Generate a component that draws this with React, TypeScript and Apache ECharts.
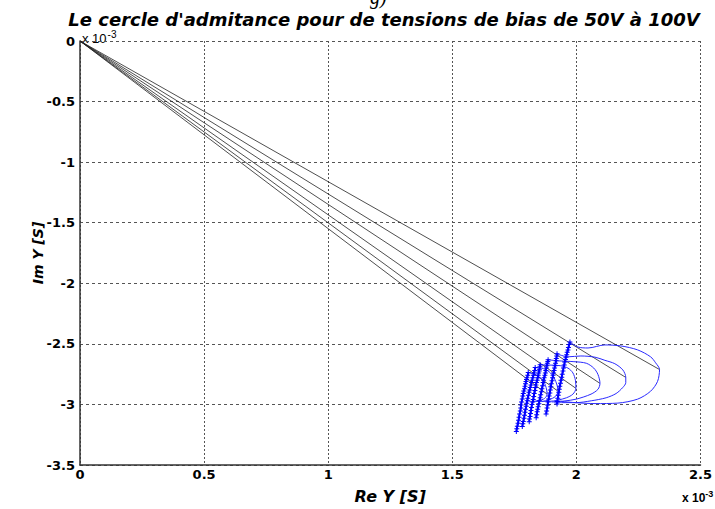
import React, { useEffect, useRef } from "react";
import * as echarts from "echarts";

// Series labels (bias voltages)
const biasLabels = ["50V", "60V", "70V", "80V", "90V", "100V"];

// Dense off-resonance "tail" points (Re Y, Im Y) in units of 1e-3 S
const tail50 = [[1.758,-3.224],[1.760,-3.20],[1.762,-3.18],[1.765,-3.155],[1.767,-3.13],[1.769,-3.105],[1.771,-3.08],[1.774,-3.055],[1.776,-3.03],[1.777,-3.005],[1.779,-2.98],[1.782,-2.955],[1.784,-2.93],[1.786,-2.91],[1.788,-2.89],[1.791,-2.87],[1.793,-2.85],[1.795,-2.83],[1.797,-2.81],[1.799,-2.795],[1.801,-2.78],[1.804,-2.76],[1.806,-2.737]];
const tail60 = [[1.782,-3.183],[1.784,-3.16],[1.786,-3.14],[1.789,-3.115],[1.791,-3.09],[1.793,-3.065],[1.795,-3.04],[1.798,-3.015],[1.800,-2.99],[1.802,-2.97],[1.804,-2.95],[1.807,-2.925],[1.809,-2.90],[1.812,-2.88],[1.814,-2.86],[1.817,-2.84],[1.819,-2.82],[1.822,-2.80],[1.824,-2.78],[1.827,-2.76],[1.829,-2.74],[1.832,-2.72],[1.834,-2.696]];
const tail70 = [[1.810,-3.143],[1.811,-3.12],[1.813,-3.10],[1.815,-3.075],[1.817,-3.05],[1.819,-3.025],[1.821,-3.00],[1.824,-2.98],[1.826,-2.96],[1.828,-2.935],[1.830,-2.91],[1.833,-2.885],[1.835,-2.86],[1.837,-2.84],[1.839,-2.82],[1.842,-2.80],[1.844,-2.78],[1.846,-2.76],[1.848,-2.74],[1.850,-2.725],[1.851,-2.71],[1.853,-2.69],[1.854,-2.672]];
const tail80 = [[1.838,-3.110],[1.840,-3.085],[1.842,-3.06],[1.844,-3.04],[1.846,-3.02],[1.849,-2.995],[1.851,-2.97],[1.854,-2.945],[1.856,-2.92],[1.859,-2.895],[1.861,-2.87],[1.864,-2.845],[1.866,-2.82],[1.868,-2.80],[1.870,-2.78],[1.873,-2.76],[1.875,-2.74],[1.877,-2.72],[1.879,-2.70],[1.881,-2.68],[1.883,-2.66],[1.885,-2.645],[1.886,-2.631]];
const tail90 = [[1.878,-3.078],[1.880,-3.055],[1.882,-3.03],[1.884,-3.005],[1.886,-2.98],[1.888,-2.955],[1.890,-2.93],[1.893,-2.905],[1.895,-2.88],[1.897,-2.855],[1.899,-2.83],[1.902,-2.805],[1.904,-2.78],[1.906,-2.76],[1.908,-2.74],[1.910,-2.72],[1.912,-2.70],[1.914,-2.68],[1.916,-2.66],[1.918,-2.64],[1.919,-2.62],[1.921,-2.60],[1.922,-2.582]];
const tail100 = [[1.922,-2.997],[1.923,-2.975],[1.925,-2.95],[1.927,-2.925],[1.929,-2.90],[1.931,-2.875],[1.933,-2.85],[1.936,-2.825],[1.938,-2.80],[1.941,-2.775],[1.943,-2.75],[1.946,-2.725],[1.948,-2.70],[1.951,-2.675],[1.953,-2.65],[1.956,-2.63],[1.958,-2.61],[1.961,-2.59],[1.963,-2.57],[1.966,-2.55],[1.968,-2.53],[1.971,-2.505],[1.974,-2.485]];

// Resonance loops (from top of tail, around the circle, back near the tail)
const loop50 = [[1.806,-2.737],[1.84,-2.76],[1.865,-2.80],[1.878,-2.86],[1.882,-2.915],[1.872,-2.95],[1.85,-2.968],[1.82,-2.975],[1.80,-2.965]];
const loop60 = [[1.834,-2.696],[1.86,-2.70],[1.89,-2.73],[1.91,-2.78],[1.922,-2.84],[1.926,-2.891],[1.915,-2.935],[1.89,-2.96],[1.86,-2.975],[1.835,-2.975]];
const loop70 = [[1.854,-2.672],[1.89,-2.675],[1.935,-2.68],[1.966,-2.70],[1.986,-2.74],[1.996,-2.80],[1.998,-2.867],[1.986,-2.915],[1.96,-2.945],[1.926,-2.964],[1.89,-2.975],[1.86,-2.975]];
const loop80 = [[1.886,-2.631],[1.926,-2.64],[1.99,-2.647],[2.04,-2.66],[2.07,-2.70],[2.087,-2.753],[2.095,-2.826],[2.087,-2.875],[2.059,-2.915],[2.0,-2.956],[1.95,-2.972],[1.90,-2.98]];
const loop90 = [[1.922,-2.582],[1.966,-2.607],[2.018,-2.60],[2.075,-2.61],[2.115,-2.636],[2.155,-2.664],[2.187,-2.715],[2.199,-2.777],[2.199,-2.82],[2.187,-2.86],[2.16,-2.91],[2.12,-2.945],[2.06,-2.97],[2.0,-2.985],[1.94,-2.985],[1.91,-2.98]];
const loop100 = [[1.974,-2.485],[2.006,-2.526],[2.047,-2.534],[2.115,-2.509],[2.179,-2.517],[2.247,-2.55],[2.299,-2.607],[2.319,-2.656],[2.335,-2.712],[2.327,-2.81],[2.299,-2.891],[2.247,-2.956],[2.167,-2.989],[2.075,-2.993],[1.994,-2.985],[1.926,-2.972]];

// Max-conductance points, joined to the origin by straight lines
const origin = [0, 0];
const tipPoints = [[1.882,-2.915],[1.926,-2.891],[1.998,-2.867],[2.095,-2.826],[2.199,-2.777],[2.335,-2.712]];

const tails = [tail50, tail60, tail70, tail80, tail90, tail100];
const loops = [loop50, loop60, loop70, loop80, loop90, loop100];

const xMin = 0, xMax = 2.5, xStep = 0.5;
const yMin = -3.5, yMax = 0, yStep = 0.5;

const FONT = "'DejaVu Sans', Verdana, sans-serif";
const SMALL = "'Liberation Sans', Arial, sans-serif";
const PLUS = "path://M4,0H6V4H10V6H6V10H4V6H0V4H4Z";

export default function App() {
  const ref = useRef<HTMLDivElement>(null);
  useEffect(() => {
    if (!ref.current) return;
    const chart = echarts.init(ref.current, undefined, { renderer: "svg" });
    const series: any[] = [];
    tipPoints.forEach((tp, i) => {
      series.push({
        name: biasLabels[i] + " ref",
        type: "line",
        data: [origin, tp],
        symbol: "none",
        lineStyle: { color: "#222", width: 0.8 },
        silent: true,
        z: 2,
      });
    });
    loops.forEach((lp, i) => {
      series.push({
        name: biasLabels[i],
        type: "line",
        data: lp,
        symbol: "none",
        smooth: 0.3,
        lineStyle: { color: "#2a2aff", width: 1 },
        z: 3,
      });
    });
    tails.forEach((tl, i) => {
      series.push({
        name: biasLabels[i] + " tail",
        type: "line",
        data: tl,
        symbol: PLUS,
        symbolSize: 5,
        showSymbol: true,
        showAllSymbol: true,
        itemStyle: { color: "#0000ff" },
        lineStyle: { color: "#0000ff", width: 2 },
        z: 4,
      });
    });

    chart.setOption({
      animation: false,
      backgroundColor: "#ffffff",
      grid: { left: 80, right: 12, top: 41, bottom: 37, containLabel: false },
      xAxis: {
        type: "value",
        min: xMin,
        max: xMax,
        interval: xStep,
        name: "Re Y [S]",
        nameLocation: "middle",
        nameGap: 23,
        nameTextStyle: { fontFamily: FONT, fontWeight: "bold", fontStyle: "italic", fontSize: 16, color: "#000" },
        axisLine: { show: true, onZero: false, lineStyle: { color: "#333", width: 1.5 } },
        axisTick: { show: false },
        axisLabel: { fontFamily: FONT, fontWeight: "bold", fontSize: 13, color: "#000", margin: 3 },
        splitLine: { show: true, lineStyle: { color: "#555", width: 1, type: [2, 2] } },
      },
      yAxis: {
        type: "value",
        min: yMin,
        max: yMax,
        interval: yStep,
        name: "Im Y [S]",
        nameLocation: "middle",
        nameGap: 35,
        nameMoveOverlap: false,
        nameRotate: 90,
        nameTextStyle: { fontFamily: FONT, fontWeight: "bold", fontStyle: "italic", fontSize: 14, color: "#000" },
        axisLine: { show: true, onZero: false, lineStyle: { color: "#333", width: 1.5 } },
        axisTick: { show: false },
        axisLabel: { fontFamily: FONT, fontWeight: "bold", fontSize: 13, color: "#000", margin: 5 },
        splitLine: { show: true, lineStyle: { color: "#555", width: 1, type: [3, 3] } },
      },
      graphic: [
        {
          type: "text",
          x: 384,
          y: 19,
          style: {
            text: "Le cercle d'admitance pour de tensions de bias de 50V à 100V",
            font: "italic bold 18px " + FONT,
            fill: "#000",
            textAlign: "center",
            textVerticalAlign: "middle",
          },
        },
        {
          type: "text",
          x: 370,
          y: -13,
          style: { text: "g)", font: "italic 20px 'Liberation Serif', serif", fill: "#000" },
        },
        {
          type: "text",
          x: 82,
          y: 29,
          style: {
            text: "x 10{s|-3}",
            font: "13px " + SMALL,
            fill: "#000",
            rich: { s: { fontSize: 10, fontFamily: SMALL, padding: [0, 0, 8, 1] } },
          },
        },
        {
          type: "text",
          x: 682,
          y: 489,
          style: {
            text: "x 10{s|-3}",
            font: "bold 12px " + SMALL,
            fill: "#000",
            rich: { s: { fontSize: 9, fontWeight: "bold", fontFamily: SMALL, padding: [0, 0, 8, 0] } },
          },
        },
      ],
      series,
    });
    return () => chart.dispose();
  }, []);
  return <div ref={ref} style={{ position: "fixed", left: 0, top: 0, width: 715, height: 509, background: "#fff" }} />;
}
